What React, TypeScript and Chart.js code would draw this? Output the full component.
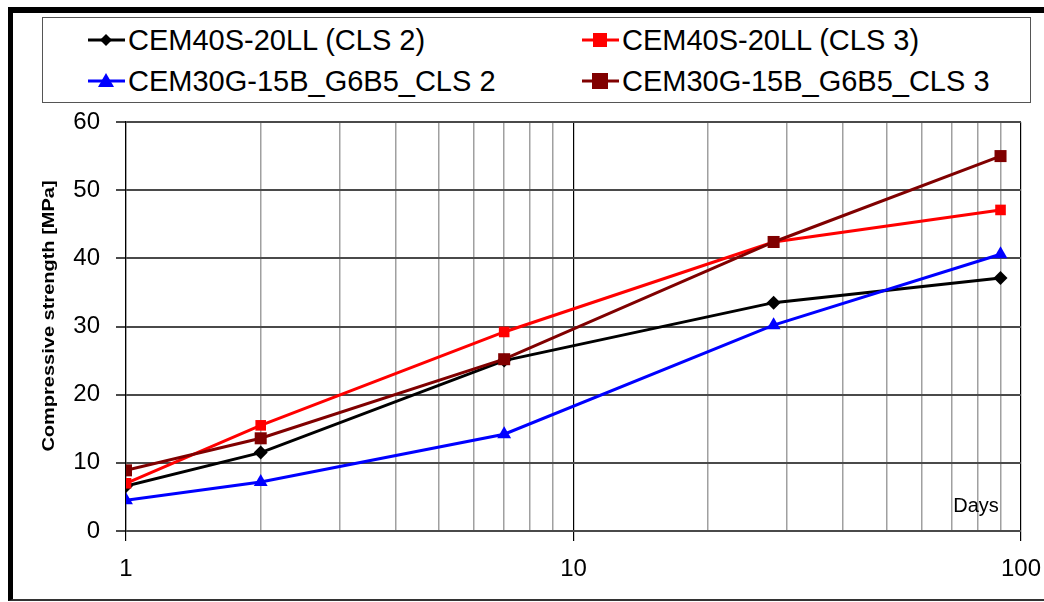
import React, { useEffect, useRef } from "react";
import { Chart, registerables } from "chart.js";

Chart.register(...registerables);

const days = [1, 2, 7, 28, 90];
const cem40Cls2 = [6.6, 11.5, 25.0, 33.5, 37.1];
const cem40Cls3 = [7.0, 15.5, 29.2, 42.4, 47.1];
const cem30Cls2 = [4.5, 7.2, 14.2, 30.2, 40.6];
const cem30Cls3 = [8.9, 13.6, 25.2, 42.4, 55.0];

const seriesNames = [
  "CEM40S-20LL (CLS 2)",
  "CEM40S-20LL (CLS 3)",
  "CEM30G-15B_G6B5_CLS 2",
  "CEM30G-15B_G6B5_CLS 3",
];
const seriesColors = ["#000000", "#ff0000", "#0000ff", "#800000"];
const xTicks = [1, 2, 3, 4, 5, 6, 7, 8, 9, 10, 20, 30, 40, 50, 60, 70, 80, 90, 100];
const xLabels = [1, 10, 100];
const yTitle = "Compressive strength [MPa]";
const xTitle = "Days";

const FONT = "'Liberation Sans', Arial, Helvetica, sans-serif";

const W = 1044;
const H = 602;
const PLOT_LEFT = 126;
const PLOT_RIGHT = 1021;
const PLOT_TOP = 122;
const PLOT_BOTTOM = 531;

const textPlugin = {
  id: "textPlugin",
  afterDraw(chart: any) {
    const ctx = chart.ctx;
    ctx.save();
    ctx.fillStyle = "#000";
    ctx.font = `bold 16px ${FONT}`;
    ctx.textAlign = "center";
    ctx.textBaseline = "middle";
    ctx.translate(50, 316);
    ctx.rotate(-Math.PI / 2);
    ctx.scale(1.25, 1);
    ctx.fillText(yTitle, 0, 0);
    ctx.restore();
    ctx.save();
    ctx.fillStyle = "#000";
    ctx.font = `20px ${FONT}`;
    ctx.textAlign = "center";
    ctx.textBaseline = "middle";
    ctx.fillText(xTitle, 976, 506);
    ctx.restore();
  },
};

function Marker({ color, shape }: { color: string; shape: string }) {
  let m: any = null;
  if (shape === "diamond") m = <polygon points="18,4 24,10 18,16 12,10" fill={color} />;
  else if (shape === "square") m = <rect x="11" y="3" width="14" height="14" fill={color} />;
  else if (shape === "bigsquare") m = <rect x="10" y="2" width="16" height="16" fill={color} />;
  else m = <polygon points="18,2 26,16 10,16" fill={color} />;
  return (
    <svg width="37" height="20" style={{ display: "block" }}>
      <line x1="0" y1="10" x2="37" y2="10" stroke={color} strokeWidth="3" />
      {m}
    </svg>
  );
}

const legendShapes = ["diamond", "square", "triangle", "bigsquare"];
const legendPos = [
  { x: 88, y: 40 },
  { x: 582, y: 40 },
  { x: 88, y: 81 },
  { x: 582, y: 81 },
];

export default function App() {
  const ref = useRef<HTMLCanvasElement>(null);
  useEffect(() => {
    const canvas = ref.current!;
    const mk = (i: number, data: number[], style: string, radius: number) => ({
      label: seriesNames[i],
      data: days.map((d, k) => ({ x: d, y: data[k] })),
      borderColor: seriesColors[i],
      backgroundColor: seriesColors[i],
      borderWidth: 3,
      pointStyle: style,
      pointRadius: radius,
      pointBorderWidth: 0,
      pointBackgroundColor: seriesColors[i],
      order: 4 - i,
    });
    const chart = new Chart(canvas, {
      type: "line",
      data: {
        datasets: [
          mk(0, cem40Cls2, "rectRot", 7),
          mk(1, cem40Cls3, "rect", 7.5),
          mk(2, cem30Cls2, "triangle", 8),
          mk(3, cem30Cls3, "rect", 8.5),
        ] as any,
      },
      options: {
        responsive: false,
        animation: false,
        layout: { padding: { top: PLOT_TOP, right: W - PLOT_RIGHT, left: 0, bottom: 0 } },
        plugins: { legend: { display: false }, tooltip: { enabled: false } },
        scales: {
          x: {
            type: "logarithmic",
            min: 1,
            max: 100,
            afterBuildTicks: (s: any) => {
              s.ticks = xTicks.map((v) => ({ value: v }));
            },
            afterFit: (s: any) => {
              s.height = H - PLOT_BOTTOM;
              s.paddingLeft = 0;
              s.paddingRight = 0;
            },
            ticks: {
              autoSkip: false,
              maxRotation: 0,
              padding: 14,
              color: "#000",
              font: { family: FONT, size: 24 },
              callback: (v: any) => (xLabels.includes(Number(v)) ? String(v) : ""),
            },
            grid: {
              color: (c: any) => (xLabels.includes(c.tick?.value) ? "#000" : "#a0a0a0"),
              lineWidth: (c: any) => (xLabels.includes(c.tick?.value) ? 1.2 : 1.5),
              tickColor: (c: any) => (xLabels.includes(c.tick?.value) ? "#000" : "rgba(0,0,0,0)"),
              tickLength: 10,
            },
            border: { display: false },
          },
          y: {
            min: 0,
            max: 60,
            afterFit: (s: any) => {
              s.width = PLOT_LEFT;
              s.paddingTop = 0;
              s.paddingBottom = 0;
            },
            ticks: {
              stepSize: 10,
              padding: 16,
              color: "#000",
              font: { family: FONT, size: 24 },
            },
            grid: {
              color: "#4a4a4a",
              lineWidth: 2,
              tickColor: "#4a4a4a",
              tickLength: 10,
            },
            border: { display: true, color: "#000", width: 1.2 },
          },
        },
      } as any,
      plugins: [textPlugin],
    });
    return () => chart.destroy();
  }, []);

  return (
    <div style={{ position: "fixed", left: 0, top: 0, width: W, height: H, background: "#fff", overflow: "hidden" }}>
      <div
        style={{
          position: "absolute",
          left: 8,
          top: 7,
          width: W + 20,
          height: H - 7 - 1,
          borderLeft: "5px solid #000",
          borderTop: "6px solid #000",
          borderBottom: "2px solid #333",
          boxSizing: "border-box",
        }}
      />
      <canvas ref={ref} width={W} height={H} style={{ position: "absolute", left: 0, top: 0 }} />
      <div
        style={{
          position: "absolute",
          left: 42,
          top: 17,
          width: 1031 - 42,
          height: 103 - 17,
          border: "1px solid #555",
          boxSizing: "border-box",
          background: "#fff",
        }}
      />
      {legendPos.map((p, i) => (
        <div
          key={i}
          style={{
            position: "absolute",
            left: p.x,
            top: p.y - 16,
            height: 32,
            display: "flex",
            alignItems: "center",
            fontFamily: FONT,
            fontSize: 29,
            color: "#000",
            whiteSpace: "nowrap",
          }}
        >
          <Marker color={seriesColors[i]} shape={legendShapes[i]} />
          <span style={{ marginLeft: 3 }}>{seriesNames[i]}</span>
        </div>
      ))}
    </div>
  );
}
